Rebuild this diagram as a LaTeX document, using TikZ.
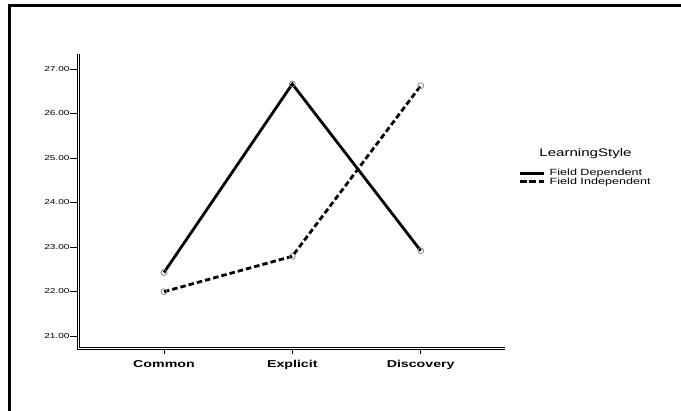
\documentclass[tikz,border=0pt]{standalone}
\usepackage{fontspec}
\setmainfont{Liberation Sans}
\newcommand\stretchtxt[2]{\scalebox{#1}[1]{#2}}
\begin{document}
\begin{tikzpicture}[x=1pt,y=-1pt,
  frameline/.style={line width=2.6pt,black},
  axisline/.style={double,double distance=1.4pt,line width=0.8pt,black},
  tickline/.style={line width=0.8pt,black},
  ticklabel/.style={anchor=east,inner sep=0pt,font=\fontsize{7.2}{8}\selectfont},
  catlabel/.style={inner sep=0pt,font=\fontsize{10}{11}\selectfont\bfseries},
  fdline/.style={line width=2.8pt,black},
  filine/.style={line width=2.8pt,black,dash pattern=on 5.5pt off 3pt},
  datapt/.style={circle,minimum size=6pt,inner sep=0pt},
  markring/.style={draw=gray,line width=0.7pt},
  legtitle/.style={inner sep=0pt,font=\fontsize{11}{12}\selectfont},
  legitem/.style={anchor=west,inner sep=0pt,font=\fontsize{9}{10}\selectfont}]
\useasboundingbox (0,0) rectangle (681,411);
\fill[white] (0,0) rectangle (681,411);
% outer frame
\draw[frameline] (9.5,413) -- (9.5,5.5) -- (683,5.5);
% axes
\coordinate (ytop) at (78.7,54);
\coordinate (origin) at (78.7,348.8);
\coordinate (xend) at (505,348.8);
\draw[axisline] (ytop) -- (origin) -- (xend);
% y ticks
\foreach \i/\v/\yy in {a/27.00/69,b/26.00/113.5,c/25.00/158,d/24.00/202.5,e/23.00/247,f/22.00/291.5,g/21.00/336}{
  \coordinate (yt\i) at (77.3,\yy);
  \draw[tickline] (yt\i) -- ++(-7,0) coordinate (ytl\i);
  \node[ticklabel] (ylab\i) at ([xshift=-0.5pt]ytl\i) {\stretchtxt{1.4}{\v}};
}
% x ticks
\foreach \nm/\xx in {Common/164,Explicit/292.3,Discovery/420.7}{
  \coordinate (xt\nm) at (\xx,350.2);
  \draw[tickline] (xt\nm) -- ++(0,4) coordinate (xtl\nm);
  \node[catlabel] (xlab\nm) at (\xx,364.5) {\stretchtxt{1.42}{\nm}};
}
% data points
\node[datapt] (fd1) at (164,272.5) {};
\node[datapt] (fd2) at (292.3,84) {};
\node[datapt] (fd3) at (420.7,250.7) {};
\node[datapt] (fi1) at (164,291.7) {};
\node[datapt] (fi2) at (292.3,256.3) {};
\node[datapt] (fi3) at (420.7,85.7) {};
\draw[fdline,line join=miter] (fd1.center) -- (fd2.center) -- (fd3.center);
\draw[filine] (fi1.center) -- (fi2.center) -- (fi3.center);
\foreach \p in {fd1,fd2,fd3,fi1,fi2,fi3}{
  \draw[markring] (\p.center) circle (3pt);
}
% legend
\node[legtitle] (legt) at (585.5,154) {\stretchtxt{1.37}{LearningStyle}};
\coordinate (lfa) at (520,173.3);
\coordinate (lfb) at (543.5,173.3);
\coordinate (lia) at (520,181.7);
\coordinate (lib) at (543.5,181.7);
\draw[line width=2.8pt,black] (lfa) -- (lfb);
\draw[line width=2.8pt,black,dash pattern=on 7pt off 2.3pt on 7pt off 2.3pt on 4.9pt off 1pt] (lia) -- (lib);
\node[legitem] (lfd) at (549.5,173.5) {\stretchtxt{1.4}{Field Dependent}};
\node[legitem] (lfi) at (549.5,182) {\stretchtxt{1.4}{Field Independent}};
\end{tikzpicture}
\end{document}
